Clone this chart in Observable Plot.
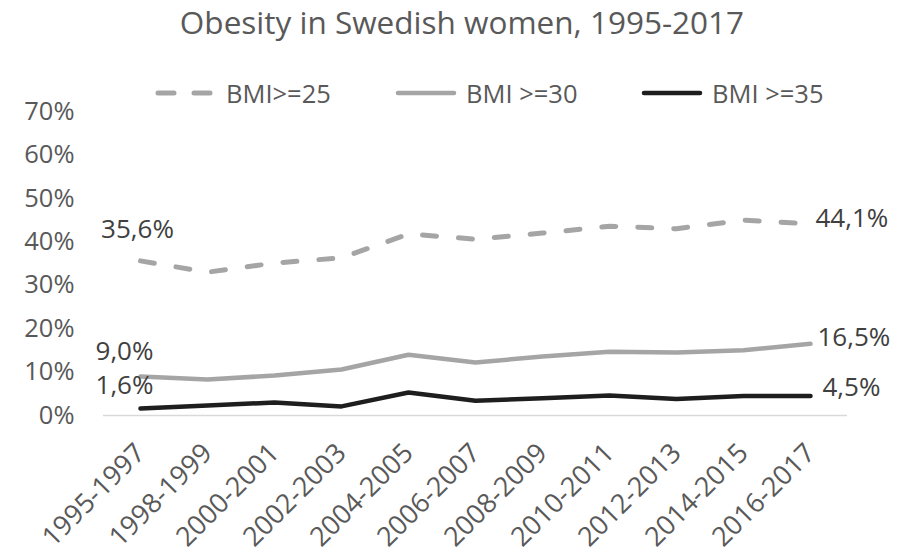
<!DOCTYPE html>
<html><head><meta charset="utf-8">
<script src="https://cdn.jsdelivr.net/npm/d3@7"></script>
<script src="https://cdn.jsdelivr.net/npm/@observablehq/plot@0.6"></script>
<style>
body{margin:0;background:#fff;}
#wrap{position:relative;width:899px;height:553px;font-family:"Open Sans",sans-serif;color:#595959;overflow:hidden;}
#title{position:absolute;left:0;top:0;width:924px;text-align:center;font-size:31.5px;line-height:44px;z-index:2;}
.leg{position:absolute;top:78px;height:30px;display:flex;align-items:center;font-size:25.5px;z-index:2;}
.leg svg{margin-right:8px;}
#chart{position:absolute;left:0;top:0;}
</style></head>
<body>
<div id="wrap">
  <div id="title">Obesity in Swedish women, 1995-2017</div>
  <div id="legend"></div>
  <div id="chart"></div>
</div>
<script>
const periods = ["1995-1997","1998-1999","2000-2001","2002-2003","2004-2005","2006-2007","2008-2009","2010-2011","2012-2013","2014-2015","2016-2017"];
const seriesNames = ["BMI>=25","BMI >=30","BMI >=35"];
const bmi25 = [35.6, 33.0, 35.1, 36.3, 41.8, 40.6, 42.0, 43.6, 43.0, 45.0, 44.1];
const bmi30 = [9.0, 8.3, 9.2, 10.6, 14.0, 12.2, 13.6, 14.7, 14.5, 15.0, 16.5];
const bmi35 = [1.6, 2.3, 3.0, 2.1, 5.3, 3.4, 4.0, 4.6, 3.8, 4.5, 4.5];
const yTicks = [0, 10, 20, 30, 40, 50, 60, 70];

const seriesValues = [bmi25, bmi30, bmi35];
const styles = [
  {stroke:"#a5a5a5", strokeWidth:5, strokeDasharray:"14,22"},
  {stroke:"#a5a5a5", strokeWidth:4.5},
  {stroke:"#1e1e1e", strokeWidth:4.5}
];
const rows = [];
seriesNames.forEach((s, i) => periods.forEach((p, j) => rows.push({series: s, period: p, value: seriesValues[i][j]})));
const fmt = v => v.toFixed(1).replace(".", ",") + "%";

// legend
const legendLeft = [154, 394, 640];
const legend = document.getElementById("legend");
seriesNames.forEach((s, i) => {
  const st = styles[i];
  const div = document.createElement("div");
  div.className = "leg";
  div.style.left = legendLeft[i] + "px";
  div.innerHTML = `<svg width="64" height="10"><line x1="4" x2="60" y1="5" y2="5" stroke="${st.stroke}" stroke-width="${st.strokeWidth}" stroke-linecap="round" ${st.strokeDasharray ? 'stroke-dasharray="16,20"' : ''}/></svg><span>${s}</span>`;
  legend.appendChild(div);
});

const firstOffsets = [[-3, -31], [-16, -25], [-16, -23]];
const lastOffsets = [[5, -5], [7, -6], [12, -8]];

const marks = [
  Plot.axisX({tickRotate: -45, tickSize: 0, tickPadding: 33, fontSize: 27, label: null}),
  Plot.axisY({ticks: yTicks, tickFormat: d => d + "%", tickSize: 0, tickPadding: 29, label: null}),
  Plot.ruleY([0], {stroke: "#d9d9d9", strokeWidth: 1.5})
];
seriesNames.forEach((s, i) => {
  const data = rows.filter(d => d.series === s);
  marks.push(Plot.line(data, {x: "period", y: "value", strokeLinecap: "round", strokeLinejoin: "round", ...styles[i]}));
  marks.push(Plot.text([data[0]], {x: "period", y: "value", text: d => fmt(d.value), dx: firstOffsets[i][0], dy: firstOffsets[i][1], fill: "#404040", fontSize: 26, textAnchor: "middle"}));
  marks.push(Plot.text([data[data.length - 1]], {x: "period", y: "value", text: d => fmt(d.value), dx: lastOffsets[i][0], dy: lastOffsets[i][1], fill: "#404040", fontSize: 26, textAnchor: "start"}));
});

const chart = Plot.plot({
  width: 899, height: 553,
  marginTop: 111, marginBottom: 138, marginLeft: 103, marginRight: 52,
  style: {fontFamily: "Open Sans, sans-serif", fontSize: "25.5px", color: "#595959", background: "white"},
  x: {type: "point", domain: periods, padding: 0.5},
  y: {domain: [0, 70]},
  marks
});
document.getElementById("chart").appendChild(chart);
</script>
</body></html>
